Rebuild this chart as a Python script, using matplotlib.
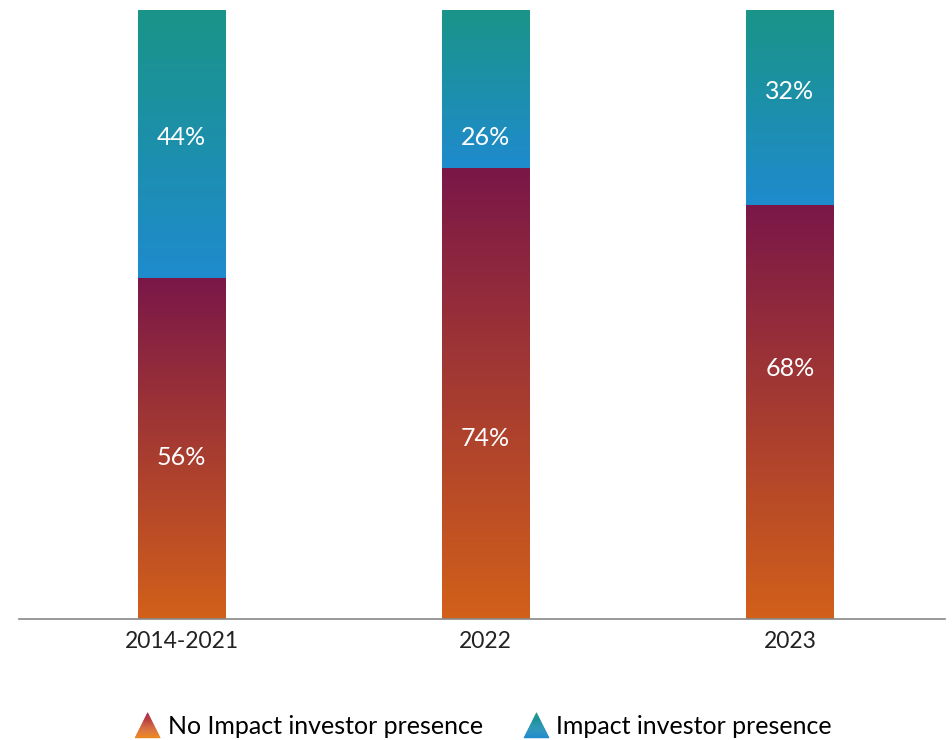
import numpy as np
import matplotlib
matplotlib.use("Agg")
import matplotlib.pyplot as plt
from matplotlib.colors import LinearSegmentedColormap
from matplotlib.patches import Polygon
from matplotlib.legend_handler import HandlerBase

plt.rcParams['font.family'] = ['Lato', 'DejaVu Sans']

categories = ["2014-2021", "2022", "2023"]
no_impact = [56, 74, 68]
impact = [44, 26, 32]
# label heights (in % units) as seen in the reference
no_impact_label_y = [26.6, 29.7, 41.2]
impact_label_y = [79.0, 79.0, 86.6]
series_names = ["No Impact investor presence", "Impact investor presence"]

red_top, red_bot = "#7a1748", "#d2601a"
blue_top, blue_bot = "#1a9488", "#1f8bce"

fig = plt.figure(figsize=(9.53, 7.4), dpi=100)
ax = fig.add_axes([19/953, 121/740, (945-19)/953, 609/740])

x = np.arange(len(categories))
width = 0.286

def grad_bar(xs, bottoms, heights, ctop, cbot):
    bars = ax.bar(xs, heights, width, bottom=bottoms, color="none", linewidth=0)
    cmap = LinearSegmentedColormap.from_list("g", [cbot, ctop])
    grad = np.linspace(0, 1, 256).reshape(-1, 1)
    for b in bars:
        x0, y0 = b.get_x(), b.get_y()
        w, h = b.get_width(), b.get_height()
        im = ax.imshow(grad, cmap=cmap, aspect="auto", origin="lower",
                       extent=[x0, x0 + w, y0, y0 + h], zorder=2)
        im.set_clip_path(b)
    return bars

grad_bar(x, [0]*3, no_impact, red_top, red_bot)
grad_bar(x, no_impact, impact, blue_top, blue_bot)

for i in range(len(categories)):
    ax.text(x[i], no_impact_label_y[i], f"{no_impact[i]}%", ha="center", va="center",
            color="white", fontsize=18, zorder=3)
    ax.text(x[i], impact_label_y[i], f"{impact[i]}%", ha="center", va="center",
            color="white", fontsize=18, zorder=3)

ax.set_xlim(-0.534, 2.51)
ax.set_ylim(0, 100)
ax.set_xticks(x)
ax.set_xticklabels(categories, fontsize=16.5, color="#222222")
ax.tick_params(axis="x", length=0, pad=9)
ax.set_yticks([])
for s in ["top", "left", "right"]:
    ax.spines[s].set_visible(False)
ax.spines["bottom"].set_color("#888888")
ax.spines["bottom"].set_linewidth(1.2)


class GradTri(HandlerBase):
    def __init__(self, ctop, cbot):
        super().__init__()
        self.ctop, self.cbot = ctop, cbot

    def create_artists(self, legend, orig_handle, xdescent, ydescent, width,
                       height, fontsize, trans):
        cmap = LinearSegmentedColormap.from_list("g", [self.cbot, self.ctop])
        n = 24
        cx = width / 2 - xdescent
        h = height * 1.45
        y0 = -ydescent - height * 0.2
        w = h * 1.0
        arts = []
        for k in range(n):
            t0, t1 = k / n, (k + 1) / n
            ya, yb = y0 + t0 * h, y0 + t1 * h
            ha, hb = w / 2 * (1 - t0), w / 2 * (1 - t1)
            c = cmap((t0 + t1) / 2)
            poly = Polygon([[cx - ha, ya], [cx + ha, ya], [cx + hb, yb], [cx - hb, yb]],
                           closed=True, facecolor=c, edgecolor=c,
                           linewidth=0.3, transform=trans)
            arts.append(poly)
        return arts


h1 = Polygon([[0, 0]], closed=True)
h2 = Polygon([[0, 0], [1, 1]], closed=True)
fig.legend([h1, h2], series_names, loc="center", bbox_to_anchor=(483/953, 1 - 727/740),
           ncol=2, frameon=False, fontsize=18, handlelength=1.1, handletextpad=0.25,
           columnspacing=1.6,
           handler_map={h1: GradTri("#a8234a", "#ee8a1e"), h2: GradTri("#1a9488", "#1f8bce")})

fig.savefig("out.png", dpi=100)
